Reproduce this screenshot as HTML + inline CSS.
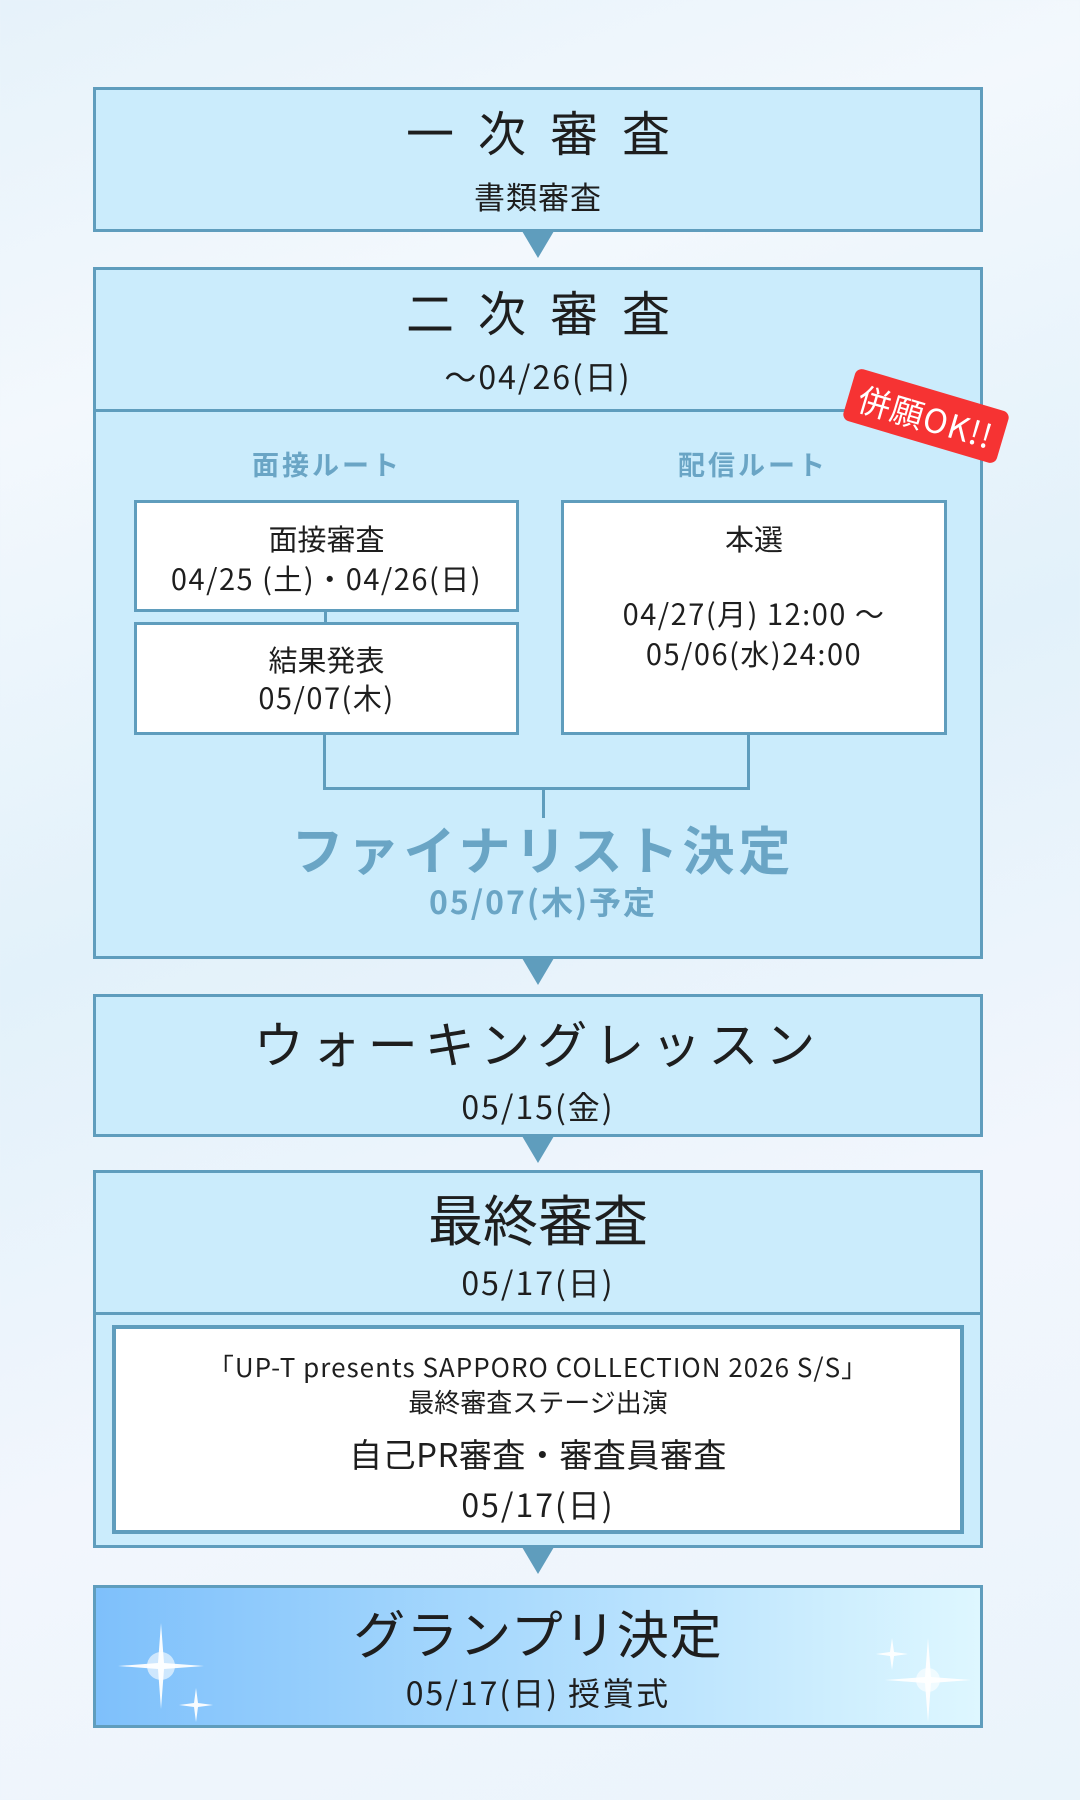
<!DOCTYPE html>
<html><head><meta charset="utf-8"><style>
*{margin:0;padding:0;box-sizing:border-box}
body{width:1080px;height:1800px;position:relative;overflow:hidden;font-family:"Noto Sans CJK JP","Liberation Sans",sans-serif;color:#1e1e1e;
background:linear-gradient(160deg,#e6f2fa 0%,#f3f8fd 20%,#e2f1fa 45%,#f2f6fd 70%,#eaf4fb 100%)}
.a{position:absolute}
.box{position:absolute;left:93px;width:890px;background:#cbecfc;border:3px solid #5f9dbd}
.t{position:absolute;left:0;width:100%;text-align:center;white-space:nowrap;line-height:1}
.w{position:absolute;background:#fff;border:3px solid #5f9dbd}
.arr{position:absolute;left:522px;width:0;height:0;border-left:16px solid transparent;border-right:16px solid transparent;border-top:27px solid #5f9dbd}
.ln{position:absolute;background:#5f9dbd}
.d{letter-spacing:2px}
</style></head><body>

<div class="box" style="top:87px;height:145px">
  <div class="t" style="top:16px;font-size:48px;letter-spacing:24px;padding-left:24px">一次審査</div>
  <div class="t" style="top:90px;font-size:31px;letter-spacing:1px">書類審査</div>
</div>
<div class="arr" style="top:231px"></div>

<div class="box" style="top:267px;height:692px">
  <div class="t" style="top:16px;font-size:48px;letter-spacing:24px;padding-left:24px">二次審査</div>
  <div class="t d" style="top:90px;font-size:32px">～04/26(日)</div>
  <div class="ln" style="left:0;top:139px;width:887px;height:3px"></div>
</div>
<div class="t" style="top:450px;left:0;width:654px;font-size:27px;font-weight:bold;color:#6aa5c5;letter-spacing:3px">面接ルート</div>
<div class="t" style="top:450px;left:426px;width:654px;font-size:27px;font-weight:bold;color:#6aa5c5;letter-spacing:3px">配信ルート</div>
<div class="ln" style="left:324px;top:610px;width:3px;height:14px"></div>
<div class="w" style="left:134px;top:500px;width:385px;height:112px">
  <div class="t" style="top:21px;font-size:29px">面接審査</div>
  <div class="t d" style="top:61px;font-size:29px;letter-spacing:1.5px">04/25 (土)・04/26(日)</div>
</div>
<div class="w" style="left:134px;top:622px;width:385px;height:113px">
  <div class="t" style="top:20px;font-size:29px">結果発表</div>
  <div class="t d" style="top:58px;font-size:29px;letter-spacing:1.5px">05/07(木)</div>
</div>
<div class="w" style="left:561px;top:500px;width:386px;height:235px">
  <div class="t" style="top:21px;font-size:29px">本選</div>
  <div class="t d" style="top:96px;font-size:29px;letter-spacing:1.5px">04/27(月) 12:00 ～</div>
  <div class="t d" style="top:136px;font-size:29px;letter-spacing:1.5px">05/06(水)24:00</div>
</div>
<div class="ln" style="left:323px;top:735px;width:3px;height:55px"></div>
<div class="ln" style="left:747px;top:735px;width:3px;height:55px"></div>
<div class="ln" style="left:323px;top:787px;width:427px;height:3px"></div>
<div class="ln" style="left:542px;top:790px;width:3px;height:28px"></div>
<div class="t" style="top:822px;left:0;width:1086px;font-size:52px;font-weight:bold;color:#6aa5c5;letter-spacing:4px">ファイナリスト決定</div>
<div class="t" style="top:885px;left:0;width:1086px;font-size:32px;font-weight:bold;color:#6aa5c5;letter-spacing:2px">05/07(木)予定</div>

<div class="a" style="left:846px;top:389px;width:160px;height:54px;background:#f63333;border-radius:7px;transform:rotate(16.5deg);color:#fff;font-size:33px;line-height:54px;text-align:center;white-space:nowrap;letter-spacing:1px">併願OK!!</div>

<div class="arr" style="top:958px"></div>
<div class="box" style="top:994px;height:143px">
  <div class="t" style="top:20px;font-size:50px;letter-spacing:7px">ウォーキングレッスン</div>
  <div class="t d" style="top:93px;font-size:32px">05/15(金)</div>
</div>
<div class="arr" style="top:1136px"></div>

<div class="box" style="top:1170px;height:378px">
  <div class="t" style="top:17px;font-size:55px">最終審査</div>
  <div class="t d" style="top:93px;font-size:32px">05/17(日)</div>
  <div class="ln" style="left:0;top:139px;width:887px;height:3px"></div>
</div>
<div class="w" style="left:112px;top:1325px;width:852px;height:209px;border-width:4px">
  <div class="t" style="top:25px;font-size:26px;letter-spacing:1px">「UP-T presents SAPPORO COLLECTION 2026 S/S」</div>
  <div class="t" style="top:60px;font-size:26px">最終審査ステージ出演</div>
  <div class="t" style="top:108px;font-size:33px;letter-spacing:0.5px">自己PR審査・審査員審査</div>
  <div class="t d" style="top:159px;font-size:32px">05/17(日)</div>
</div>
<div class="arr" style="top:1547px"></div>

<div class="box" style="top:1585px;height:143px;background:linear-gradient(90deg,#7ec0fb 0%,#a8d9fd 45%,#def7ff 100%)">
  <svg class="a" style="left:0;top:0" width="884" height="137">
    <g fill="#fff" opacity="0.95">
      <path d="M65 35 L68 75 L108 78 L68 81 L65 121 L62 81 L22 78 L62 75Z"/>
      <path d="M100 100 L102 115 L117 117 L102 119 L100 134 L98 119 L83 117 L98 115Z"/>
      <path d="M796 50 L798 64 L812 66 L798 68 L796 82 L794 68 L780 66 L794 64Z"/>
      <path d="M832 50 L835 89 L875 92 L835 95 L832 134 L829 95 L789 92 L829 89Z"/>
    </g>
    <circle cx="65" cy="78" r="14" fill="#fff" opacity="0.6"/>
    <circle cx="832" cy="92" r="12" fill="#fff" opacity="0.6"/>
  </svg>
  <div class="t" style="top:18px;font-size:52px;letter-spacing:1px">グランプリ決定</div>
  <div class="t d" style="top:88px;font-size:32px">05/17(日) 授賞式</div>
</div>

</body></html>
